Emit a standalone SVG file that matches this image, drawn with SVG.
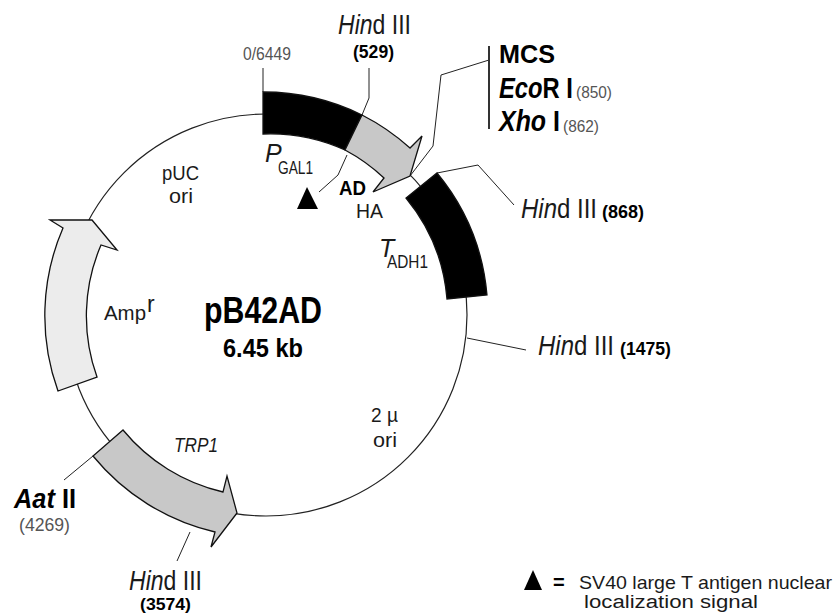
<svg xmlns="http://www.w3.org/2000/svg" width="834" height="614" viewBox="0 0 834 614">
<style>
text{font-family:"Liberation Sans",Arial,sans-serif;fill:#1a1a1a}
.b{font-weight:700;fill:#000}
.i{font-style:italic}
.g{fill:#555}
.ln{fill:none;stroke:#222;stroke-width:1}
.sh{stroke:#111;stroke-width:1.3;stroke-linejoin:miter}
</style>
<rect width="834" height="614" fill="#fff"/>
<circle id="backbone" cx="266" cy="315" r="201" fill="none" stroke="#222" stroke-width="1.2"/>
<g id="connectors">
<path class="ln" d="M263 68V92"/>
<path class="ln" d="M369 68V98L362 115M347 155L338 175L319 192"/>
<path class="ln" stroke-width="1.2" d="M489 60L441 75L433 146L410 176"/>
<path d="M489 46V129" fill="none" stroke="#333" stroke-width="2"/>
<path class="ln" d="M437 173L478 165L514 205"/>
<path class="ln" d="M467 338L526 350"/>
<path class="ln" d="M93 456L64 480"/>
<path class="ln" d="M190 532L177 561"/>
</g>
<g id="pgal1"><path class="sh" fill="#000" d="M263 92A223 223 0 0 1 362 115L345 150A181 181 0 0 0 263 134Z"/></g>
<g id="ad-arrow"><path class="sh" fill="#c8c8c8" d="M362 115A222 222 0 0 1 410 148L422 136L410 176L373 192L384 178A181 181 0 0 0 345 150Z"/></g>
<g id="tadh1"><path class="sh" fill="#000" d="M437 173A222 222 0 0 1 487 295L447 299A182 182 0 0 0 406 198Z"/></g>
<g id="ampr"><path class="sh" fill="#ececec" d="M97 377A180 180 0 0 1 101 245L117 250L92 220L50 220L63 228A221 221 0 0 0 58 391Z"/></g>
<g id="trp1"><path class="sh" fill="#c8c8c8" d="M123 430A183 183 0 0 0 223 492L227 476L237 513L211 547L215 532A223 223 0 0 1 93 456Z"/></g>
<g id="nls"><path d="M307 187L297 209H318Z" fill="#000"/></g>
<g id="labels">
<text class="g" x="243" y="60" font-size="18" textLength="48" lengthAdjust="spacingAndGlyphs">0/6449</text>
<text x="338" y="34" font-size="28" textLength="73" lengthAdjust="spacingAndGlyphs"><tspan class="i">Hin</tspan>d III</text>
<text class="b" x="353" y="58" font-size="19" textLength="41" lengthAdjust="spacingAndGlyphs">(529)</text>
<text class="b" x="499" y="63" font-size="26" textLength="56" lengthAdjust="spacingAndGlyphs">MCS</text>
<text class="b" transform="translate(499 98) scale(.82 1)" font-size="29"><tspan class="i">Eco</tspan>R I</text>
<text class="g" x="576" y="98" font-size="17" textLength="36" lengthAdjust="spacingAndGlyphs">(850)</text>
<text class="b" transform="translate(499 131) scale(.86 1)" font-size="29"><tspan class="i">Xho</tspan> I</text>
<text class="g" x="563" y="132" font-size="17" textLength="36" lengthAdjust="spacingAndGlyphs">(862)</text>
<text x="521" y="218" font-size="28" textLength="76" lengthAdjust="spacingAndGlyphs"><tspan class="i">Hin</tspan>d III</text>
<text class="b" x="602" y="218" font-size="19" textLength="42" lengthAdjust="spacingAndGlyphs">(868)</text>
<text x="538" y="355" font-size="28" textLength="76" lengthAdjust="spacingAndGlyphs"><tspan class="i">Hin</tspan>d III</text>
<text class="b" x="620" y="355" font-size="19" textLength="51" lengthAdjust="spacingAndGlyphs">(1475)</text>
<text font-size="25"><tspan class="i" x="265" y="162">P</tspan><tspan x="278" y="174" font-size="18" textLength="35" lengthAdjust="spacingAndGlyphs">GAL1</tspan></text>
<text class="b" x="339" y="195" font-size="21" textLength="27" lengthAdjust="spacingAndGlyphs">AD</text>
<text x="356" y="218" font-size="21" textLength="27" lengthAdjust="spacingAndGlyphs">HA</text>
<text font-size="25"><tspan class="i" x="379" y="257">T</tspan><tspan x="387" y="268" font-size="18" textLength="41" lengthAdjust="spacingAndGlyphs">ADH1</tspan></text>
<text x="162" y="180" font-size="21" textLength="37" lengthAdjust="spacingAndGlyphs">pUC</text>
<text x="169" y="203" font-size="21" textLength="24" lengthAdjust="spacingAndGlyphs">ori</text>
<text font-size="21"><tspan x="104" y="320" textLength="42" lengthAdjust="spacingAndGlyphs">Amp</tspan><tspan x="147" y="312" font-size="23">r</tspan></text>
<text class="b" x="204" y="323" font-size="36" textLength="118" lengthAdjust="spacingAndGlyphs">pB42AD</text>
<text class="b" x="223" y="357" font-size="26" textLength="80" lengthAdjust="spacingAndGlyphs">6.45 kb</text>
<text x="371" y="422" font-size="21" textLength="27" lengthAdjust="spacingAndGlyphs">2 µ</text>
<text x="373" y="447" font-size="21" textLength="24" lengthAdjust="spacingAndGlyphs">ori</text>
<text x="174" y="452" font-size="21" class="i" textLength="44" lengthAdjust="spacingAndGlyphs">TRP1</text>
<text class="b" x="14" y="508" font-size="27" textLength="62" lengthAdjust="spacingAndGlyphs"><tspan class="i">Aat</tspan> II</text>
<text class="g" x="19" y="531" font-size="19" textLength="51" lengthAdjust="spacingAndGlyphs">(4269)</text>
<text x="129" y="590" font-size="27" textLength="73" lengthAdjust="spacingAndGlyphs"><tspan class="i">Hin</tspan>d III</text>
<text class="b" x="140" y="610" font-size="17" textLength="51" lengthAdjust="spacingAndGlyphs">(3574)</text>
</g>
<g id="legend">
<path d="M533 570L524 590H542Z" fill="#000"/>
<text class="b" x="553" y="589" font-size="20">=</text>
<text x="579" y="589" font-size="19" textLength="253" lengthAdjust="spacingAndGlyphs">SV40 large T antigen nuclear</text>
<text x="584" y="608" font-size="18" textLength="174" lengthAdjust="spacingAndGlyphs">localization signal</text>
</g>
</svg>
